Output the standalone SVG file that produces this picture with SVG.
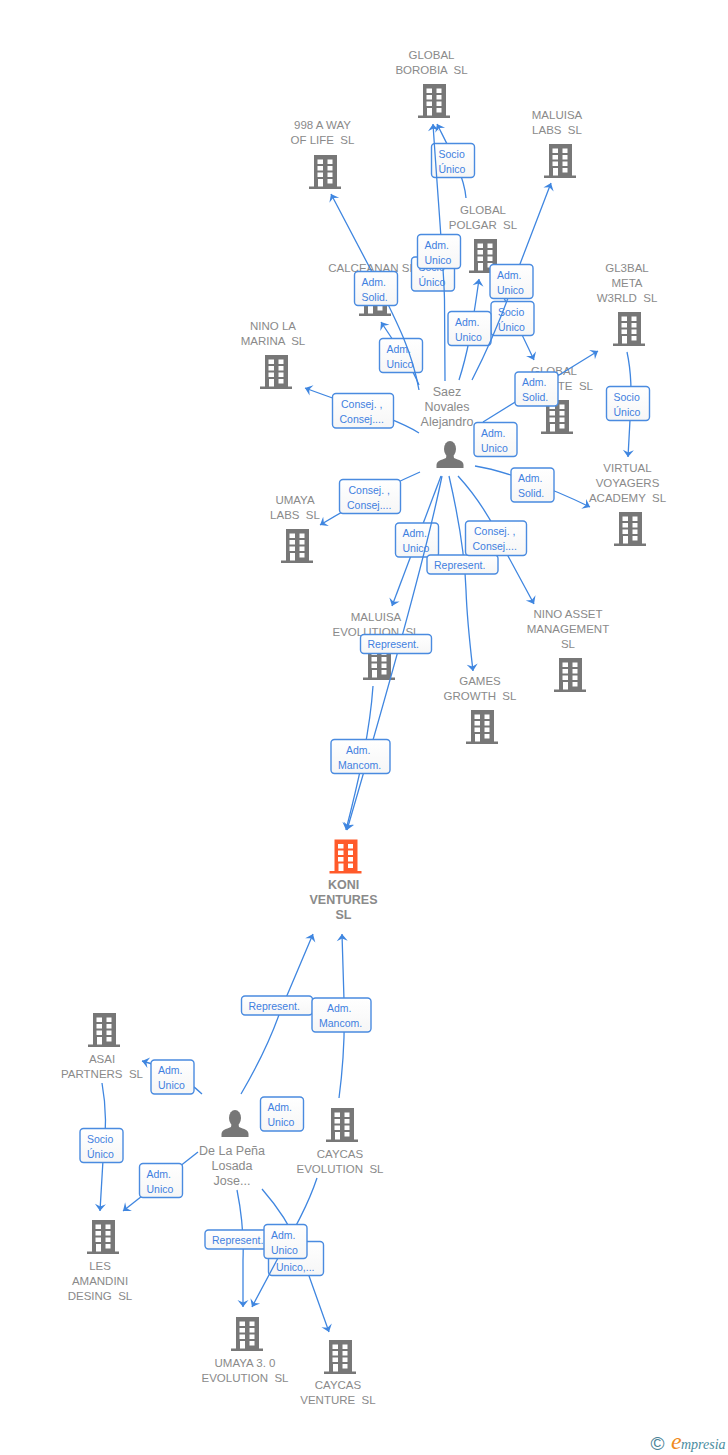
<svg xmlns="http://www.w3.org/2000/svg" width="728" height="1455" viewBox="0 0 728 1455">
<style>
text{font-family:"Liberation Sans",Arial,sans-serif;white-space:pre}
.n{font-size:11.5px;fill:#8a8a8a;text-anchor:middle}
.k{font-size:12.5px;font-weight:bold;fill:#8a8a8a;text-anchor:middle}
.p{font-size:12.5px;fill:#8a8a8a;text-anchor:middle}
.e{fill:none;stroke:#3f86e0;stroke-width:1.3;marker-end:url(#a)}
.l rect{fill:url(#g);stroke:#4a8be0;stroke-width:1.4}
.l text{font-size:10.5px;fill:#3f80e0}
.bg{color:#777}
.bo{color:#ff5a2a}
</style>
<defs>
<linearGradient id="g" x1="0" y1="0" x2="0" y2="1"><stop offset="0" stop-color="#fff"/><stop offset="1" stop-color="#f6f6f6"/></linearGradient>
<marker id="a" markerUnits="userSpaceOnUse" markerWidth="16" markerHeight="16" viewBox="-4 -8 16 16" refX="7" refY="0" orient="auto"><path d="M7 0L0 -5.5L2.5 0L0 5.5Z" fill="#3f86e0"/></marker>
<g id="b"><path d="M5 0H28V31.500H32V34H0V31.500H5Z" fill="currentColor"/><g fill="#fff"><rect x="8.500" y="4.500" width="5.500" height="4.500"/><rect x="18.500" y="4.500" width="5" height="4.500"/><rect x="8.500" y="11" width="5.500" height="4.500"/><rect x="18.500" y="11" width="5" height="4.500"/><rect x="8.500" y="17.500" width="5.500" height="4.500"/><rect x="18.500" y="17.500" width="5" height="4.500"/><rect x="9" y="24" width="5" height="7.500"/><rect x="18.500" y="24" width="5" height="4.500"/></g></g>
<g id="u"><ellipse cx="14" cy="8" rx="6" ry="8" fill="#777"/><path d="M10.500 14L10 17C5 19 .5 20 .5 24V27H27.500V24C27.500 20 23 19 18 17L17.500 14Z" fill="#777"/></g>
</defs>

<g id="global-borobia"><use href="#b" x="418" y="84" class="bg"/><text class="n" x="431.500" y="59">GLOBAL</text><text class="n" x="431.500" y="74">BOROBIA  SL</text></g>
<g id="a998"><use href="#b" x="309" y="155" class="bg"/><text class="n" x="322.500" y="129">998 A WAY</text><text class="n" x="322.500" y="144">OF LIFE  SL</text></g>
<g id="maluisa-labs"><use href="#b" x="544" y="144" class="bg"/><text class="n" x="557" y="119">MALUISA</text><text class="n" x="557" y="134">LABS  SL</text></g>
<g id="global-polgar"><use href="#b" x="469" y="239" class="bg"/><text class="n" x="483" y="214">GLOBAL</text><text class="n" x="483" y="229">POLGAR  SL</text></g>
<g id="calceanan"><use href="#b" x="359" y="282" class="bg"/><text class="n" x="372" y="272">CALCEANAN SL</text></g>
<g id="nino-la-marina"><use href="#b" x="260" y="355" class="bg"/><text class="n" x="273" y="330">NINO LA</text><text class="n" x="273" y="345">MARINA  SL</text></g>
<g id="global-te"><use href="#b" x="541" y="400" class="bg"/><text class="n" x="554" y="375">GLOBAL</text><text class="n" x="593" y="390" style="text-anchor:end">TE  SL</text></g>
<g id="gl3bal"><use href="#b" x="613" y="312" class="bg"/><text class="n" x="627" y="272">GL3BAL</text><text class="n" x="627" y="287">META</text><text class="n" x="627" y="302">W3RLD  SL</text></g>
<g id="virtual"><use href="#b" x="614" y="512" class="bg"/><text class="n" x="627.500" y="472">VIRTUAL</text><text class="n" x="627.500" y="487">VOYAGERS</text><text class="n" x="627.500" y="502">ACADEMY  SL</text></g>
<g id="umaya-labs"><use href="#b" x="281" y="529" class="bg"/><text class="n" x="295" y="504">UMAYA</text><text class="n" x="295" y="519">LABS  SL</text></g>
<g id="maluisa-evolution"><use href="#b" x="363" y="646" class="bg"/><text class="n" x="376" y="621">MALUISA</text><text class="n" x="376" y="636">EVOLUTION  SL</text></g>
<g id="nino-asset"><use href="#b" x="554" y="658" class="bg"/><text class="n" x="568" y="618">NINO ASSET</text><text class="n" x="568" y="633">MANAGEMENT</text><text class="n" x="568" y="648">SL</text></g>
<g id="games-growth"><use href="#b" x="466" y="710" class="bg"/><text class="n" x="480" y="685">GAMES</text><text class="n" x="480" y="700">GROWTH  SL</text></g>
<g id="koni"><use href="#b" x="329.500" y="839.500" class="bo"/><text class="k" x="343.500" y="889">KONI</text><text class="k" x="343.500" y="904">VENTURES</text><text class="k" x="343.500" y="919">SL</text></g>
<g id="caycas-evolution"><use href="#b" x="326" y="1108" class="bg"/><text class="n" x="340" y="1158">CAYCAS</text><text class="n" x="340" y="1173">EVOLUTION  SL</text></g>
<g id="asai"><use href="#b" x="88" y="1013" class="bg"/><text class="n" x="102" y="1063">ASAI</text><text class="n" x="102" y="1078">PARTNERS  SL</text></g>
<g id="les-amandini"><use href="#b" x="87" y="1220" class="bg"/><text class="n" x="100" y="1270">LES</text><text class="n" x="100" y="1285">AMANDINI</text><text class="n" x="100" y="1300">DESING  SL</text></g>
<g id="umaya3"><use href="#b" x="231" y="1317" class="bg"/><text class="n" x="245" y="1367">UMAYA 3. 0</text><text class="n" x="245" y="1382">EVOLUTION  SL</text></g>
<g id="caycas-venture"><use href="#b" x="324" y="1340" class="bg"/><text class="n" x="338" y="1389">CAYCAS</text><text class="n" x="338" y="1404">VENTURE  SL</text></g>
<g id="saez"><use href="#u" x="436" y="441"/><text class="p" x="447" y="396">Saez</text><text class="p" x="447" y="411">Novales</text><text class="p" x="447" y="426">Alejandro</text></g>
<g id="de-la-pena"><use href="#u" x="221" y="1110"/><text class="p" x="232" y="1155">De La Peña</text><text class="p" x="232" y="1170">Losada</text><text class="p" x="232" y="1185">Jose...</text></g>
<g id="logo"><text x="650.500" y="1450" style="font-size:19px;fill:#4a8296">©</text><text x="671" y="1449" style="font-family:'Liberation Serif',serif;font-style:italic;font-size:24px;fill:#f08a1d">e</text><text x="681" y="1449" style="font-family:'Liberation Serif',serif;font-style:italic;font-size:14px;fill:#4a8ca0">mpresia</text></g>

<g id="connectors">
<path class="e" d="M466 198C464 175 450 150 437 124"/>
<g class="l"><rect x="431.500" y="143.500" width="43" height="34" rx="3.500"/><text x="438.500" y="157.500">Socio</text><text x="438.500" y="172.500">Único</text></g>
<g class="l"><rect x="411.500" y="257" width="43" height="34" rx="3.500"/><text x="418.500" y="271">Socio</text><text x="418.500" y="286">Único</text></g>
<path class="e" d="M445 381L444.500 300C444 270 438 200 433 124"/>
<g class="l"><rect x="417.500" y="234.500" width="43" height="34" rx="3.500"/><text x="424.500" y="248.500">Adm.</text><text x="424.500" y="263.500">Unico</text></g>
<path class="e" d="M419 385C413 370 405 358 381 322"/>
<g class="l"><rect x="379.500" y="338.500" width="43" height="34" rx="3.500"/><text x="386.500" y="352.500">Adm.</text><text x="386.500" y="367.500">Unico</text></g>
<path class="e" d="M419 390C412 350 395 318 372 272L331 194"/>
<g class="l"><rect x="354.500" y="271.500" width="43" height="34" rx="3.500"/><text x="361.500" y="285.500">Adm.</text><text x="361.500" y="300.500">Solid.</text></g>
<path class="e" d="M495 280C505 300 520 330 534 360"/>
<g class="l"><rect x="491" y="301.500" width="43" height="34" rx="3.500"/><text x="498" y="315.500">Socio</text><text x="498" y="330.500">Único</text></g>
<path class="e" d="M459 380C467 355 472 330 479 279"/>
<g class="l"><rect x="448" y="311.500" width="43" height="34" rx="3.500"/><text x="455" y="325.500">Adm.</text><text x="455" y="340.500">Unico</text></g>
<path class="e" d="M472 380C490 345 505 310 520 264L551 183"/>
<g class="l"><rect x="490" y="264.500" width="43" height="34" rx="3.500"/><text x="497" y="278.500">Adm.</text><text x="497" y="293.500">Unico</text></g>
<path class="e" d="M419 433C395 418 350 405 305 388"/>
<g class="l"><rect x="332.500" y="393.500" width="61" height="34.500" rx="3.500"/><text x="341" y="407.500">Consej. ,</text><text x="339.500" y="422.500">Consej....</text></g>
<g class="l"><rect x="474" y="422.500" width="43" height="34" rx="3.500"/><text x="481" y="436.500">Adm.</text><text x="481" y="451.500">Unico</text></g>
<path class="e" d="M483 422L598 351"/>
<g class="l"><rect x="515" y="372" width="43" height="34" rx="3.500"/><text x="522" y="386">Adm.</text><text x="522" y="401">Solid.</text></g>
<path class="e" d="M475 466C500 470 545 485 590 507"/>
<g class="l"><rect x="511" y="468" width="43" height="34" rx="3.500"/><text x="518" y="482">Adm.</text><text x="518" y="497">Solid.</text></g>
<path class="e" d="M420 472C390 485 350 507 320 525"/>
<g class="l"><rect x="339.500" y="479.500" width="61" height="34" rx="3.500"/><text x="348.500" y="493.500">Consej. ,</text><text x="347" y="508.500">Consej....</text></g>
<path class="e" d="M441 476L392 606"/>
<g class="l"><rect x="395.500" y="523" width="43" height="34" rx="3.500"/><text x="402.500" y="537">Adm.</text><text x="402.500" y="552">Unico</text></g>
<path class="e" d="M449 476C458 515 465 560 466 590C467 620 470 645 473 671"/>
<g class="l"><rect x="427" y="555" width="71" height="19" rx="3.500"/><text x="434" y="568.500">Represent.</text></g>
<path class="e" d="M458 476C480 500 495 525 508 556L534 604"/>
<g class="l"><rect x="465.500" y="521" width="61" height="34.500" rx="3.500"/><text x="474" y="534.500">Consej. ,</text><text x="472.500" y="549.500">Consej....</text></g>
<path class="e" d="M442 476C425 560 385 700 347 830"/>
<g class="l"><rect x="360.500" y="634.500" width="71" height="19" rx="3.500"/><text x="367.500" y="648">Represent.</text></g>
<path class="e" d="M373 686C370 730 360 775 346 830"/>
<g class="l"><rect x="331" y="739.500" width="59" height="34" rx="3.500"/><text x="346" y="753.500">Adm.</text><text x="338" y="768.500">Mancom.</text></g>
<path class="e" d="M627 352C632 375 632 395 630 420L628 457"/>
<g class="l"><rect x="606.500" y="386.500" width="43" height="34" rx="3.500"/><text x="613.500" y="400.500">Socio</text><text x="613.500" y="415.500">Único</text></g>

<path class="e" d="M241 1094C258 1065 272 1035 280 1012L313 934"/>
<g class="l"><rect x="241.500" y="996" width="71" height="19" rx="3.500"/><text x="248.500" y="1009.500">Represent.</text></g>
<path class="e" d="M339 1098C344 1060 345 1030 344 1000L342 934"/>
<g class="l"><rect x="312" y="998" width="59" height="34" rx="3.500"/><text x="327" y="1012">Adm.</text><text x="319" y="1027">Mancom.</text></g>
<g class="l"><rect x="260.500" y="1097" width="43" height="34" rx="3.500"/><text x="267.500" y="1111">Adm.</text><text x="267.500" y="1126">Unico</text></g>
<path class="e" d="M202 1094C185 1078 165 1067 142 1061"/>
<g class="l"><rect x="151" y="1060" width="43" height="34" rx="3.500"/><text x="158" y="1074">Adm.</text><text x="158" y="1089">Unico</text></g>
<path class="e" d="M102 1083C106 1105 107 1130 103 1160L100 1211"/>
<g class="l"><rect x="80" y="1128.500" width="43" height="34" rx="3.500"/><text x="87" y="1142.500">Socio</text><text x="87" y="1157.500">Único</text></g>
<path class="e" d="M198 1152L123 1211"/>
<g class="l"><rect x="139.500" y="1163.500" width="43" height="34" rx="3.500"/><text x="146.500" y="1177.500">Adm.</text><text x="146.500" y="1192.500">Unico</text></g>
<path class="e" d="M237 1190C241 1210 244 1235 243 1260L243 1307"/>
<g class="l"><rect x="205" y="1230" width="71" height="19" rx="3.500"/><text x="212" y="1243.500">Represent.</text></g>
<path class="e" d="M262 1189C275 1204 290 1225 298 1245L329 1332"/>
<g class="l"><rect x="268.500" y="1241.500" width="55" height="34" rx="3.500"/><text x="276" y="1270.500">Unico,...</text></g>
<path class="e" d="M317 1178C308 1205 295 1228 278 1258L252 1307"/>
<g class="l"><rect x="264" y="1224.500" width="43" height="34" rx="3.500"/><text x="271" y="1238.500">Adm.</text><text x="271" y="1253.500">Unico</text></g>
</g>
</svg>
